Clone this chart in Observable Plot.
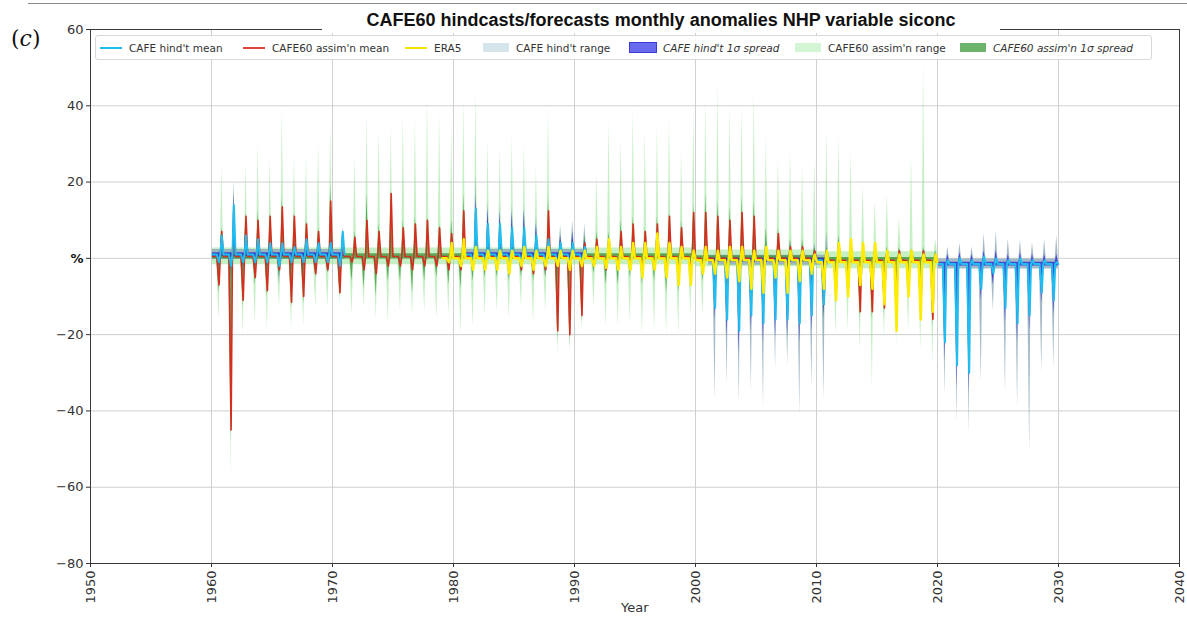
<!DOCTYPE html>
<html><head><meta charset="utf-8">
<script src="https://cdn.jsdelivr.net/npm/d3@7"></script>
<script src="https://cdn.jsdelivr.net/npm/@observablehq/plot@0.6"></script>
<style>
body{margin:0;background:#fff;}
#wrap{position:relative;width:1187px;height:618px;overflow:hidden;font-family:"DejaVu Sans",sans-serif;background:#fff;}
#chart{position:absolute;left:0;top:0;}
#topline{position:absolute;left:28px;top:3px;width:1159px;height:0;border-top:1px solid #8a8a8a;}
#panel{position:absolute;left:11px;top:26px;font-family:"DejaVu Serif","Liberation Serif",serif;font-size:22px;color:#111;}
#title{position:absolute;left:322px;top:8px;width:678px;height:25px;background:#fff;text-align:center;font-family:"Liberation Sans",Arial,sans-serif;font-weight:bold;font-size:18px;line-height:25px;color:#111;}
#legend{position:absolute;left:95px;top:35px;width:1055px;height:23px;border:1px solid #d8d8d8;border-radius:3px;background:rgba(255,255,255,0.85);}
.item{position:absolute;top:0;height:23px;display:flex;align-items:center;font-size:10.5px;color:#333;white-space:nowrap;}
.sw{display:inline-block;margin-right:7px;}
#xlabel{position:absolute;left:621px;top:600px;font-size:13px;color:#333;}
</style></head><body>
<div id="wrap">
  <div id="chart"></div>
  <div id="topline"></div>
  <div id="panel">(<i>c</i>)</div>
  <div id="title">CAFE60 hindcasts/forecasts monthly anomalies NHP variable siconc</div>
  <div id="legend"></div>
  <div id="xlabel">Year</div>
</div>
<script>
const _ = null;
// ---- data (one value per year: seasonal base level, annual low spike, annual high spike) ----
const years = [
  1960,1961,1962,1963,1964,1965,1966,1967,1968,1969,
  1970,1971,1972,1973,1974,1975,1976,1977,1978,1979,
  1980,1981,1982,1983,1984,1985,1986,1987,1988,1989,
  1990,1991,1992,1993,1994,1995,1996,1997,1998,1999,
  2000,2001,2002,2003,2004,2005,2006,2007,2008,2009,
  2010,2011,2012,2013,2014,2015,2016,2017,2018,2019,
  2020,2021,2022,2023,2024,2025,2026,2027,2028,2029];

// CAFE60 assimilation
const assimBase = [
  0.5,0.5,0.5,0.5,0.5,0.5,0.5,0.5,0.5,0.5,
  0.5,0.5,0.5,0.5,0.5,0.5,0.5,0.5,0.5,0.5,
  0.5,0.5,0.5,0.5,0.5,0.5,0.5,0.5,0.5,0.5,
  0.5,0.5,0.5,0.5,0.5,0.5,0.5,0.5,0.5,0.5,
  0,0,0,0,0,0,0,0,0,0,
  -0.5,-0.5,-0.5,-0.5,-0.5,-0.5,-0.5,-0.5,-0.5,-0.5,
  _,_,_,_,_,_,_,_,_,_];
const assimMeanHi = [
  7,3,11,10,11,13.5,11,9,7,15,
  3,5.5,10,7,17,8,9,10,8,6.5,
  12.5,4,4,3,5,5,5,12.5,3,3,
  4,5,5,7,9,7,9,11,8,12,
  12,11,10,12,11,2,6.5,3,3,2,
  2,4,3,2,3,2,2,2,2,1,
  _,_,_,_,_,_,_,_,_,_];
const assimMeanLo = [
  -7,-45,-11,-5,-8.5,-3,-11.5,-10,-4,-3,
  -9,-1,-3,-4,-2,-2,-3,-2,-2,-3,
  -3,-2,-3,-2,-4,-3,-4,-3,-19,-20,
  -15,-2,-3,-3,-2,-3,-2,-4,-4,-3,
  -3,-5,-8,-10,-9,-9,-6,-11,-8,-5,
  -12,-9,-8,-14,-14,-13,-12,-8,-14,-16,
  _,_,_,_,_,_,_,_,_,_];
const assimSdHi = [
  8,5,12,12.5,12,16,12,10,8,19.5,
  4,7,17,9,18,10,11,11,9,10,
  17,6,6,5,7,7,7,16,5,5,
  6,7,7,10,11,8,11,12,10,14,
  17,15,13.5,16,15,8,8,4.7,5,3,
  3,6,4.7,3,4,3,3,2.5,3,2,
  _,_,_,_,_,_,_,_,_,_];
const assimSdLo = [
  -9,-48,-13,-7,-10,-5,-13,-12,-5,-4,
  -10,-6,-8,-10,-6,-6,-9,-6,-5,-7,
  -8,-6,-5,-5,-6,-5,-6,-5,-22,-23,
  -17,-4,-7,-7,-5,-7,-6,-9,-9,-6,
  -6,-8,-11,-13,-12,-11,-9,-14,-10,-8,
  -16,-12,-10,-16,-16,-15,-14,-10,-16,-18,
  _,_,_,_,_,_,_,_,_,_];
const assimRngHi = [
  24,20,25,30,26,39,27,27,30,35,
  6,27,38,34,35,38,37,42,38,35,
  42,44,31,29,32,30,24,39,9,8,
  7,22,36,31,39,33,35,37,28,39,
  42,46,40,40,44,32,26,28,24,26,
  34,32,28,19,15,17,11,27,51,5,
  _,_,_,_,_,_,_,_,_,_];
const assimRngLo = [
  -16,-58,-20,-17,-19,-13,-19,-18,-13,-13,
  -12,-15,-13,-16,-17,-14,-15,-14,-16,-15,
  -20,-18,-15,-14,-16,-13,-17,-14,-26,-25,
  -19,-13,-18,-18,-17,-20,-19,-20,-20,-15,
  -15,-17,-20,-22,-20,-18,-18,-25,-18,-15,
  -24,-20,-19,-24,-34,-21,-23,-19,-24,-28,
  _,_,_,_,_,_,_,_,_,_];

// CAFE hindcasts
const hindBase = [
  1,1,1,1,1,1,1,1,1,1,
  1,_,_,_,_,_,_,_,_,_,
  _,1,1,1,1,1,1,1,1,1,
  1,_,_,_,_,_,_,_,_,_,
  _,-0.5,-0.5,-0.5,-0.5,-0.5,-0.5,-0.5,-0.5,-0.5,
  -0.5,_,_,_,_,_,_,_,_,_,
  -1.5,-1.5,-1.5,-1.5,-1.5,-1.5,-1.5,-1.5,-1.5,-1.5];
const hindMeanHi = [
  6,14,6,5,4,4,3,5,4,4,
  7,_,_,_,_,_,_,_,_,_,
  _,13,9,9,8,8,6,5,4,4,
  3,_,_,_,_,_,_,_,_,_,
  _,0.5,0,0.5,0,0,0.5,0,0,0.5,
  0,_,_,_,_,_,_,_,_,_,
  -0.5,0,-0.5,0.5,0,-0.5,0,-0.5,-0.5,-1];
const hindMeanLo = [
  -1,-2,-1,-1,-1,-2,-1,-1,-1,-1,
  -2,_,_,_,_,_,_,_,_,_,
  _,-1,-1,-1,-1,-1,-1,-1,-2,-2,
  -1,_,_,_,_,_,_,_,_,_,
  _,-13,-16,-19,-15,-17,-16,-16,-17,-15,
  -12,_,_,_,_,_,_,_,_,_,
  -22,-28,-30,-8,-4,-13,-17,-15,-9,-11];
const hindSdHi = [
  7,17,8,6,5,5,4,6,5,5,
  7.5,_,_,_,_,_,_,_,_,_,
  _,16,13,12,12,12.5,9,7,6,7,
  4.7,_,_,_,_,_,_,_,_,_,
  _,1.5,1,1.5,1,1,1.5,1,1,1.5,
  1,_,_,_,_,_,_,_,_,_,
  1,1.5,1,2,2,1,1.5,1,1,1];
const hindSdLo = [
  -2,-3,-2,-2,-2,-3,-2,-2,-2,-2,
  -3,_,_,_,_,_,_,_,_,_,
  _,-2,-2,-2,-2,-2,-2,-2,-3,-3,
  -2,_,_,_,_,_,_,_,_,_,
  _,-16,-21,-25,-19,-22,-21,-21,-22,-19,
  -15,_,_,_,_,_,_,_,_,_,
  -27,-34,-35.5,-11,-7,-17,-22,-19,-12,-15];
const hindRngHi = [
  8,20,10,8,7,6,6,7,7,7,
  8,_,_,_,_,_,_,_,_,_,
  _,22,15,14,14,14,11,9,8,10,
  9,_,_,_,_,_,_,_,_,_,
  _,3,2,3,4,3,3,5,3,4,
  7,_,_,_,_,_,_,_,_,_,
  3,4,3,6.5,7,5,4.7,4,5,6];
const hindRngLo = [
  -4,-6,-4,-4,-5,-7,-4,-4,-4,-4,
  -5,_,_,_,_,_,_,_,_,_,
  _,-4,-4,-4,-5,-4,-4,-5,-5,-5,
  -4,_,_,_,_,_,_,_,_,_,
  _,-37,-33,-38,-35,-39,-29,-28.5,-41,-34,
  -37,_,_,_,_,_,_,_,_,_,
  -36,-43,-46,-32.5,-13.6,-35,-39,-51,-30,-29];

// ERA5
const era5Base = [
  _,_,_,_,_,_,_,_,_,_,
  _,_,_,_,_,_,_,_,_,0,
  0,0,0,0,0,0,0,0,0,0,
  0,0,0,0,0,0,0,0,0,0,
  -0.5,-0.5,-0.5,-0.5,-0.5,-0.5,-0.5,-0.5,-0.5,-0.5,
  -1,-1,-1,-1,-1,-1,-1,-1,-1,-1,
  _,_,_,_,_,_,_,_,_,_];
const era5Hi = [
  _,_,_,_,_,_,_,_,_,_,
  _,_,_,_,_,_,_,_,_,4,
  5,3,2,2,2,3,2,3,2,2,
  2,3,5,3,4,4,6.5,4,3,2,
  3,2,3,3,2,3,2,2,2,1,
  2,4,5,4,4,2,1,2,1,1,
  _,_,_,_,_,_,_,_,_,_];
const era5Lo = [
  _,_,_,_,_,_,_,_,_,_,
  _,_,_,_,_,_,_,_,_,-1,
  -2,-3,-3,-3,-4,-2,-3,-2,-2,-3,
  -2,-2,-2.5,-3,-3,-5,-3,-5,-7,-7,
  -4,-4,-5,-6,-8,-9,-5,-9,-6,-4,
  -8,-11,-10,-7,-8,-12,-19,-10,-16,-14,
  _,_,_,_,_,_,_,_,_,_];

const xTicks = [1950,1960,1970,1980,1990,2000,2010,2020,2030,2040];
const yTicks = [-80,-60,-40,-20,0,20,40,60];

const legendLabels = ["CAFE hind't mean","CAFE60 assim'n mean","ERA5","CAFE hind't range","CAFE hind't 1\u03c3 spread","CAFE60 assim'n range","CAFE60 assim'n 1\u03c3 spread"];

// ---- build point sequences from the yearly readings ----
const OFF = [0.08, 0.44, 0.62, 0.73, 0.85, 0.99];
function build(base, lo, hi, w) {
  const out = []; let seg = 0, open = false;
  years.forEach((yr, i) => {
    if (hi[i] == null || lo[i] == null || base[i] == null) { if (open) { seg++; open = false; } return; }
    open = true;
    const b = base[i];
    OFF.forEach((o, k) => {
      const v = k === 2 ? lo[i] : k === 4 ? hi[i] : b;
      out.push({t: yr + o, seg, v, y1: k === 2 ? lo[i] : b - w, y2: k === 4 ? hi[i] : b + w});
    });
  });
  return out;
}
const aMean = build(assimBase, assimMeanLo, assimMeanHi, 0);
const aSd = build(assimBase, assimSdLo, assimSdHi, 0.7);
const aRng = build(assimBase, assimRngLo, assimRngHi, 2.2);
const hMean = build(hindBase, hindMeanLo, hindMeanHi, 0);
const hSd = build(hindBase, hindSdLo, hindSdHi, 0.5);
const hRng = build(hindBase, hindRngLo, hindRngHi, 1.3);
const era = build(era5Base, era5Lo, era5Hi, 0);

const C = {
  hMean: "#1fbdf0", aMean: "#d42e1e", era: "#ffec00",
  hRng: "#8fa9ba", hSd: "#2828d8", aRng: "#96e496", aSd: "#2e8b2e"
};

const chart = Plot.plot({
  width: 1187, height: 618,
  marginLeft: 90, marginRight: 8, marginTop: 29, marginBottom: 55,
  style: {fontSize: "13px", fontFamily: "DejaVu Sans, sans-serif", color: "#333", background: "transparent"},
  x: {domain: [1950, 2040], ticks: xTicks, tickFormat: d => String(d), tickRotate: -90, tickSize: 4, tickPadding: 3, label: null},
  y: {domain: [-80, 60], ticks: yTicks, tickFormat: d => d === 0 ? "%" : (d < 0 ? "\u2212" + (-d) : String(d)), tickSize: 4, tickPadding: 3, label: null},
  marks: [
    Plot.ruleX(xTicks, {stroke: "#cfcfcf", strokeWidth: 1}),
    Plot.ruleY(yTicks, {stroke: "#cfcfcf", strokeWidth: 1}),
    Plot.areaY(aRng, {x: "t", y1: "y1", y2: "y2", z: "seg", fill: C.aRng, fillOpacity: 0.55}),
    Plot.areaY(hRng, {x: "t", y1: "y1", y2: "y2", z: "seg", fill: C.hRng, fillOpacity: 0.8}),
    Plot.areaY(aSd, {x: "t", y1: "y1", y2: "y2", z: "seg", fill: C.aSd, fillOpacity: 0.7}),
    Plot.areaY(hSd, {x: "t", y1: "y1", y2: "y2", z: "seg", fill: C.hSd, fillOpacity: 0.78}),
    Plot.line(aMean, {x: "t", y: "v", z: "seg", stroke: C.aMean, strokeWidth: 1.6}),
    Plot.line(hMean, {x: "t", y: "v", z: "seg", stroke: C.hMean, strokeWidth: 2}),
    Plot.line(era, {x: "t", y: "v", z: "seg", stroke: C.era, strokeWidth: 2.5}),
    Plot.frame({stroke: "#3a3a3a", strokeWidth: 1})
  ]
});
document.getElementById("chart").appendChild(chart);
// bold the "%" unit label at zero
d3.select(chart).selectAll("text").filter(function(){ return this.textContent === "%"; }).attr("font-weight", "bold").attr("fill", "#111");

// ---- legend ----
const legendX = [4, 147, 309, 387, 534, 699, 864];
const swatches = [
  {kind: "line", color: C.hMean}, {kind: "line", color: "#e0443a"}, {kind: "line", color: "#f5e400"},
  {kind: "patch", color: "#d6e5ec"}, {kind: "patch", color: "#6a6aee", border: "#3a3ad8"},
  {kind: "patch", color: "#d3f5d3"}, {kind: "patch", color: "#6cb36c"}
];
const leg = document.getElementById("legend");
legendLabels.forEach((lab, i) => {
  const it = document.createElement("div");
  it.className = "item";
  it.style.left = legendX[i] + "px";
  const sw = document.createElement("span");
  sw.className = "sw";
  const s = swatches[i];
  if (s.kind === "line") { sw.style.width = "22px"; sw.style.height = "2px"; sw.style.background = s.color; }
  else { sw.style.width = "26px"; sw.style.height = "9px"; sw.style.background = s.color; if (s.border) sw.style.outline = "1px solid " + s.border; }
  it.appendChild(sw);
  const tx = document.createElement("span");
  tx.textContent = lab;
  if (lab.includes("\u03c3")) tx.style.fontStyle = "italic";
  it.appendChild(tx);
  leg.appendChild(it);
});
</script>
</body></html>
